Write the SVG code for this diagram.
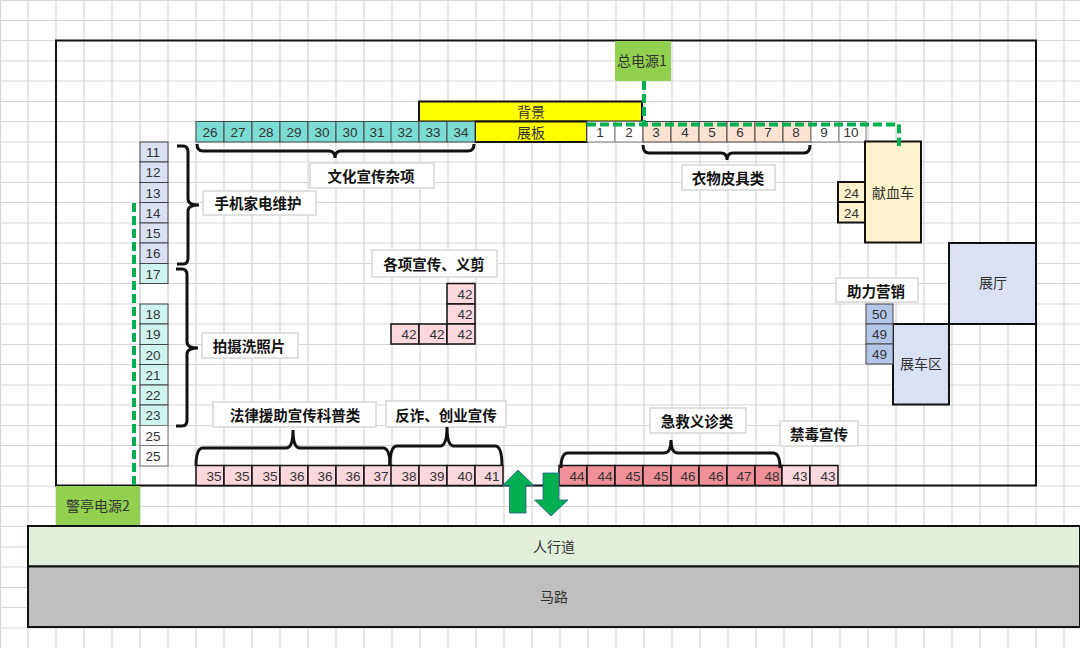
<svg xmlns="http://www.w3.org/2000/svg" width="1080" height="648" viewBox="0 0 1080 648">
<style>
text{font-family:"Noto Sans CJK SC","Liberation Sans",sans-serif;font-size:14px;fill:#333;text-anchor:middle;dominant-baseline:central;transform:translateY(-1px)}
.n text,text.n{font-family:"Liberation Sans","Noto Sans CJK SC",sans-serif;font-size:13.5px}
.grid{stroke:#d6d6d6;stroke-width:1.2;fill:none}
.n rect{stroke:#444;stroke-width:1}
.k rect{stroke:#111;stroke-width:2}
.lab rect{fill:#fff;stroke:#d9d9d9;stroke-width:1.6}
.lab text{font-weight:700;fill:#111;font-size:14.5px}
.brace{fill:none;stroke:#111;stroke-width:3}
.power{fill:none;stroke:#00b050;stroke-width:4;stroke-dasharray:9 4}
.arrow{fill:#00b050;stroke:#2f5a8f;stroke-width:.8}
.teal rect{fill:#7adcd2}.peach rect{fill:#fbe2d2}.white rect{fill:#fff;stroke:#777}.lav rect{fill:#d9e1f3}.aqua rect{fill:#cff4f0}
.pink rect{fill:#fbd7de}.red rect{fill:#f09099}.sand rect{fill:#fff2cc}.blue rect{fill:#b4c6e7}
.pink rect,.red rect{stroke:#111;stroke-width:1.5}
.yel rect{fill:#ff0}.grn rect{fill:#92d050}
</style>
<rect width="1080" height="648" fill="#fff"/>
<path class="grid" d="M0 .5H1080M0 20.5H1080M0 40.5H1080M0 61H1080M0 81H1080M0 101.5H1080M0 121.5H1080M0 142H1080M0 162H1080M0 182.5H1080M0 202.5H1080M0 223H1080M0 243H1080M0 263.5H1080M0 283.5H1080M0 304H1080M0 324H1080M0 344.5H1080M0 364.5H1080M0 385H1080M0 405H1080M0 425.5H1080M0 445.5H1080M0 466H1080M0 486H1080M0 506.5H1080M0 526.5H1080M0 547H1080M0 567H1080M0 587.5H1080M0 607.5H1080M0 628H1080M.5 0V648M28 0V648M56 0V648M84 0V648M112 0V648M140 0V648M168 0V648M196 0V648M224 0V648M252 0V648M280 0V648M308 0V648M336 0V648M364 0V648M392 0V648M420 0V648M448 0V648M476 0V648M504 0V648M532 0V648M560 0V648M588 0V648M616 0V648M644 0V648M672 0V648M700 0V648M728 0V648M756 0V648M784 0V648M812 0V648M840 0V648M868 0V648M896 0V648M924 0V648M952 0V648M980 0V648M1008 0V648M1036 0V648M1064 0V648"/>
<g id="site"><rect x="56" y="40.5" width="980" height="445" fill="none" stroke="#111" stroke-width="2"/></g>
<g id="road-walk" class="k"><rect x="28" y="526" width="1052" height="40.5" fill="#e2efda"/><text x="554" y="547">人行道</text></g>
<g id="road" class="k"><rect x="28" y="566.5" width="1052" height="60.5" fill="#bfbfbf"/><text x="554" y="597">马路</text></g>
<g id="power1" class="grn"><rect x="615" y="41" width="56" height="40"/><text x="642" y="61">总电源1</text></g>
<g id="power2" class="grn"><rect x="56" y="486" width="84" height="39"/><text x="98" y="506">警亭电源2</text></g>
<g id="bg" class="k yel"><rect x="419" y="101.5" width="223" height="20"/><text x="531" y="112">背景</text></g>
<g id="board" class="k yel"><rect x="475" y="121.5" width="112" height="20.5"/><text x="531" y="132.5">展板</text></g>
<g id="top-row" class="n">
<g id="t26" class="teal"><rect x="196" y="121.5" width="28" height="20.5"/><text x="210" y="133">26</text></g>
<g id="t27" class="teal"><rect x="224" y="121.5" width="28" height="20.5"/><text x="238" y="133">27</text></g>
<g id="t28" class="teal"><rect x="252" y="121.5" width="28" height="20.5"/><text x="266" y="133">28</text></g>
<g id="t29" class="teal"><rect x="280" y="121.5" width="28" height="20.5"/><text x="294" y="133">29</text></g>
<g id="t30a" class="teal"><rect x="308" y="121.5" width="28" height="20.5"/><text x="322" y="133">30</text></g>
<g id="t30b" class="teal"><rect x="336" y="121.5" width="28" height="20.5"/><text x="350" y="133">30</text></g>
<g id="t31" class="teal"><rect x="364" y="121.5" width="28" height="20.5"/><text x="377" y="133">31</text></g>
<g id="t32" class="teal"><rect x="391" y="121.5" width="28" height="20.5"/><text x="405" y="133">32</text></g>
<g id="t33" class="teal"><rect x="419" y="121.5" width="28" height="20.5"/><text x="433" y="133">33</text></g>
<g id="t34" class="teal"><rect x="447" y="121.5" width="28" height="20.5"/><text x="461" y="133">34</text></g>
<g id="t1" class="white"><rect x="587" y="121.5" width="28" height="20.5"/><text x="600" y="133">1</text></g>
<g id="t2" class="white"><rect x="615" y="121.5" width="28" height="20.5"/><text x="629" y="133">2</text></g>
<g id="t3" class="peach"><rect x="643" y="121.5" width="28" height="20.5"/><text x="656" y="133">3</text></g>
<g id="t4" class="peach"><rect x="671" y="121.5" width="28" height="20.5"/><text x="685" y="133">4</text></g>
<g id="t5" class="peach"><rect x="699" y="121.5" width="28" height="20.5"/><text x="712" y="133">5</text></g>
<g id="t6" class="peach"><rect x="727" y="121.5" width="28" height="20.5"/><text x="740" y="133">6</text></g>
<g id="t7" class="peach"><rect x="755" y="121.5" width="28" height="20.5"/><text x="768" y="133">7</text></g>
<g id="t8" class="peach"><rect x="783" y="121.5" width="28" height="20.5"/><text x="796" y="133">8</text></g>
<g id="t9" class="white"><rect x="811" y="121.5" width="28" height="20.5"/><text x="824" y="133">9</text></g>
<g id="t10" class="white"><rect x="839" y="121.5" width="27" height="20.5"/><text x="851" y="133">10</text></g>
</g>
<g id="left-col" class="n">
<g id="l11" class="lav"><rect x="140" y="142" width="28" height="20"/><text x="153" y="153">11</text></g>
<g id="l12" class="lav"><rect x="140" y="162" width="28" height="20.5"/><text x="153" y="173">12</text></g>
<g id="l13" class="lav"><rect x="140" y="182.5" width="28" height="20"/><text x="153" y="194">13</text></g>
<g id="l14" class="lav"><rect x="140" y="202.5" width="28" height="20.5"/><text x="153" y="214">14</text></g>
<g id="l15" class="lav"><rect x="140" y="223" width="28" height="20"/><text x="153" y="234">15</text></g>
<g id="l16" class="lav"><rect x="140" y="243" width="28" height="20.5"/><text x="153" y="254">16</text></g>
<g id="l17" class="aqua"><rect x="140" y="263.5" width="28" height="20"/><text x="153" y="275">17</text></g>
<g id="l18" class="aqua"><rect x="140" y="304" width="28" height="20"/><text x="153" y="315">18</text></g>
<g id="l19" class="aqua"><rect x="140" y="324" width="28" height="20.5"/><text x="153" y="335">19</text></g>
<g id="l20" class="aqua"><rect x="140" y="344.5" width="28" height="20"/><text x="153" y="356">20</text></g>
<g id="l21" class="aqua"><rect x="140" y="364.5" width="28" height="20.5"/><text x="153" y="376">21</text></g>
<g id="l22" class="aqua"><rect x="140" y="385" width="28" height="20"/><text x="153" y="396">22</text></g>
<g id="l23" class="aqua"><rect x="140" y="405" width="28" height="20.5"/><text x="153" y="416">23</text></g>
<g id="l25a" class="white"><rect x="140" y="425.5" width="28" height="20"/><text x="153" y="437">25</text></g>
<g id="l25b" class="white"><rect x="140" y="445.5" width="28" height="20.5"/><text x="153" y="457">25</text></g>
</g>
<g id="bottom-row" class="n">
<g id="b35a" class="pink"><rect x="196" y="465.5" width="28" height="20"/><text x="214" y="477">35</text></g>
<g id="b35b" class="pink"><rect x="224" y="465.5" width="28" height="20"/><text x="242" y="477">35</text></g>
<g id="b35c" class="pink"><rect x="252" y="465.5" width="28" height="20"/><text x="270" y="477">35</text></g>
<g id="b36a" class="pink"><rect x="280" y="465.5" width="28" height="20"/><text x="297" y="477">36</text></g>
<g id="b36b" class="pink"><rect x="308" y="465.5" width="28" height="20"/><text x="325" y="477">36</text></g>
<g id="b36c" class="pink"><rect x="336" y="465.5" width="28" height="20"/><text x="353" y="477">36</text></g>
<g id="b37" class="pink"><rect x="364" y="465.5" width="28" height="20"/><text x="381" y="477">37</text></g>
<g id="b38" class="pink"><rect x="391" y="465.5" width="28" height="20"/><text x="409" y="477">38</text></g>
<g id="b39" class="pink"><rect x="419" y="465.5" width="28" height="20"/><text x="437" y="477">39</text></g>
<g id="b40" class="pink"><rect x="447" y="465.5" width="28" height="20"/><text x="465" y="477">40</text></g>
<g id="b41" class="pink"><rect x="475" y="465.5" width="28" height="20"/><text x="492" y="477">41</text></g>
<g id="b44a" class="red"><rect x="559" y="465.5" width="28" height="20"/><text x="577" y="477">44</text></g>
<g id="b44b" class="red"><rect x="587" y="465.5" width="28" height="20"/><text x="605" y="477">44</text></g>
<g id="b45a" class="red"><rect x="615" y="465.5" width="28" height="20"/><text x="633" y="477">45</text></g>
<g id="b45b" class="red"><rect x="643" y="465.5" width="28" height="20"/><text x="661" y="477">45</text></g>
<g id="b46a" class="red"><rect x="671" y="465.5" width="28" height="20"/><text x="688" y="477">46</text></g>
<g id="b46b" class="red"><rect x="699" y="465.5" width="28" height="20"/><text x="716" y="477">46</text></g>
<g id="b47" class="red"><rect x="727" y="465.5" width="28" height="20"/><text x="744" y="477">47</text></g>
<g id="b48" class="red"><rect x="755" y="465.5" width="27" height="20"/><text x="772" y="477">48</text></g>
<g id="b43a" class="pink"><rect x="782" y="465.5" width="28" height="20"/><text x="800" y="477">43</text></g>
<g id="b43b" class="pink"><rect x="810" y="465.5" width="28" height="20"/><text x="828" y="477">43</text></g>
</g>
<g id="mid42" class="n">
<g id="m42a" class="pink"><rect x="447" y="283.5" width="28" height="20.5"/><text x="465" y="295">42</text></g>
<g id="m42b" class="pink"><rect x="447" y="304" width="28" height="20"/><text x="465" y="315">42</text></g>
<g id="m42c" class="pink"><rect x="391" y="324" width="28" height="20"/><text x="409" y="335">42</text></g>
<g id="m42d" class="pink"><rect x="419" y="324" width="28" height="20"/><text x="437" y="335">42</text></g>
<g id="m42e" class="pink"><rect x="447" y="324" width="28" height="20"/><text x="465" y="335">42</text></g>
</g>
<g id="truck" class="k sand"><rect x="865" y="141.5" width="56" height="101"/><text x="893" y="193">献血车</text></g>
<g id="s24a" class="n k sand"><rect x="838" y="182" width="27" height="20"/><text x="851.5" y="194">24</text></g>
<g id="s24b" class="n k sand"><rect x="838" y="202" width="27" height="20.5"/><text x="851.5" y="214">24</text></g>
<g id="hall" class="k"><rect x="949" y="243" width="87" height="81" fill="#d9e1f3"/><text x="993" y="283">展厅</text></g>
<g id="carzone" class="k"><rect x="893" y="324" width="56" height="80.5" fill="#d9e1f3"/><text x="921" y="364">展车区</text></g>
<g id="s50" class="n blue"><rect x="866" y="304" width="27" height="20"/><text x="879.5" y="315">50</text></g>
<g id="s49a" class="n blue"><rect x="866" y="324" width="27" height="20"/><text x="879.5" y="335">49</text></g>
<g id="s49b" class="n blue"><rect x="866" y="344" width="27" height="20"/><text x="879.5" y="355">49</text></g>
<g id="lab1" class="lab"><rect x="310" y="163" width="124" height="25"/><text x="371" y="176">文化宣传杂项</text></g>
<g id="lab2" class="lab"><rect x="203" y="191" width="113" height="24"/><text x="258" y="203.5">手机家电维护</text></g>
<g id="lab3" class="lab"><rect x="682" y="165" width="93" height="25"/><text x="728" y="178">衣物皮具类</text></g>
<g id="lab4" class="lab"><rect x="836" y="278" width="82" height="24"/><text x="876" y="291">助力营销</text></g>
<g id="lab5" class="lab"><rect x="372" y="250" width="125" height="27"/><text x="434" y="264">各项宣传、义剪</text></g>
<g id="lab6" class="lab"><rect x="202" y="333" width="96" height="25"/><text x="249" y="346">拍摄洗照片</text></g>
<g id="lab7" class="lab"><rect x="213" y="402" width="163" height="25"/><text x="295" y="415">法律援助宣传科普类</text></g>
<g id="lab8" class="lab"><rect x="386" y="401" width="120" height="26"/><text x="446" y="415">反诈、创业宣传</text></g>
<g id="lab9" class="lab"><rect x="650" y="408" width="96" height="25"/><text x="697" y="421">急救义诊类</text></g>
<g id="lab10" class="lab"><rect x="780" y="421" width="78" height="25"/><text x="819" y="434">禁毒宣传</text></g>
<g id="connectors">
<path class="power" d="M644 81V124.5M587 124.5H899V146"/>
<path class="power" d="M134 203V486"/>
<path class="brace" d="M197 144Q197 151 203 151H329Q335 151 335 158Q335 151 341 151H468Q474 151 474 144"/>
<path class="brace" d="M643 145Q643 153 649 153H721Q727 153 727 160Q727 153 733 153H804Q810 153 810 145"/>
<path class="brace" d="M177 146H183Q188 146 188 152V199Q188 205 199 205Q188 205 188 211V258Q188 264 183 264H177"/>
<path class="brace" d="M176 269H182Q187 269 187 275V342Q187 348 198 348Q187 348 187 354V420Q187 426 182 426H176"/>
<path class="brace" d="M196 466Q196 448 203 448H286Q293 448 293 430Q293 448 300 448H383Q390 448 390 466"/>
<path class="brace" d="M390 466Q390 446 397 446H440Q447 446 447 427Q447 446 454 446H495Q502 446 502 466"/>
<path class="brace" d="M561 468Q561 453 568 453H664Q671 453 671 440Q671 453 678 453H773Q780 453 780 468"/>
</g>
<g id="entry-arrows">
<path class="arrow" d="M518 470L534 485.5H526V513H509.5V485.5H502.5Z"/>
<path class="arrow" d="M543 473H559V500H568L551 516L534.5 500H543Z"/>
</g>
</svg>
